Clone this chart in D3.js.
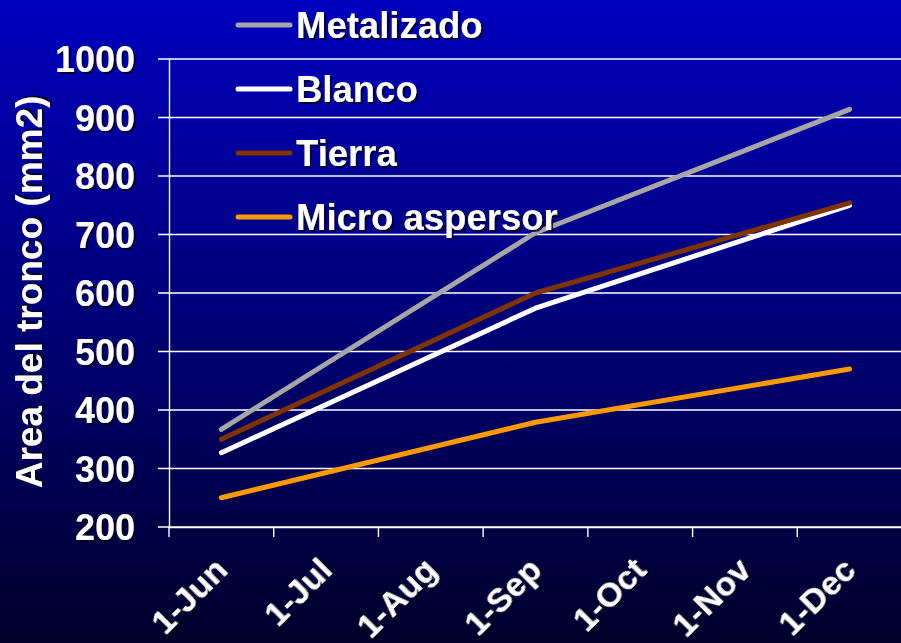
<!DOCTYPE html>
<html><head><meta charset="utf-8">
<script src="https://cdn.jsdelivr.net/npm/d3@7/dist/d3.min.js"></script>
<style>html,body{margin:0;padding:0;background:#000030;}svg{display:block;}</style>
</head><body>
<script>
const months = ["1-Jun","1-Jul","1-Aug","1-Sep","1-Oct","1-Nov","1-Dec"];
const measured = ["1-Jun","1-Sep","1-Dec"];
const seriesNames = ["Metalizado","Blanco","Tierra","Micro aspersor"];
const metalizado = [367, 703, 914];
const blanco = [327, 574, 750];
const tierra = [350, 600, 754];
const micro = [250, 379, 470];
const yTicks = [200,300,400,500,600,700,800,900,1000];
const colors = ["#A6A6A6","#FFFFFF","#7F3300","#FF9900"];
const seriesValues = [metalizado, blanco, tierra, micro];

const W = 901, H = 643;
const FONT = "'Liberation Sans', Arial, sans-serif";
const svg = d3.select("body").append("svg").attr("width", W).attr("height", H);
const defs = svg.append("defs");
const grad = defs.append("linearGradient").attr("id","bg").attr("x1",0).attr("y1",0).attr("x2",0).attr("y2",1);
grad.append("stop").attr("offset","0%").attr("stop-color","#0000BE");
grad.append("stop").attr("offset","55%").attr("stop-color","#000070");
grad.append("stop").attr("offset","100%").attr("stop-color","#00002A");
const f = defs.append("filter").attr("id","sh").attr("x","-10%").attr("y","-10%").attr("width","130%").attr("height","130%");
f.append("feDropShadow").attr("dx",2).attr("dy",2).attr("stdDeviation",0.6).attr("flood-color","#000020").attr("flood-opacity",0.85);

svg.append("rect").attr("width",W).attr("height",H).attr("fill","url(#bg)");

const pLeft = 169, pRight = 902, pTop = 59, pBottom = 527;
const x = d3.scaleBand().domain(months).range([pLeft, pRight]).padding(0);
const y = d3.scaleLinear().domain([200,1000]).range([pBottom, pTop]);

// gridlines
svg.append("g").selectAll("line").data(yTicks).join("line")
  .attr("x1", pLeft-11).attr("x2", W).attr("y1", d=>y(d)).attr("y2", d=>y(d))
  .attr("stroke","#fff").attr("stroke-width",1.4);

// y axis
const yAxis = svg.append("g").attr("transform",`translate(${pLeft},0)`)
  .call(d3.axisLeft(y).tickValues(yTicks).tickSize(0).tickPadding(34).tickFormat(d3.format("d")));
yAxis.select(".domain").attr("stroke","#fff").attr("stroke-width",1.4);
yAxis.selectAll("text").attr("fill","#fff").attr("font-family",FONT).attr("font-weight","bold")
  .attr("font-size",36).attr("dy","0.36em").attr("filter","url(#sh)");

// x axis
const xAxis = svg.append("g").attr("transform",`translate(0,${pBottom})`)
  .call(d3.axisBottom(x).tickSize(10).tickSizeOuter(0));
xAxis.select(".domain").attr("stroke","#fff").attr("stroke-width",1.4);
xAxis.selectAll(".tick line").attr("stroke","#fff").attr("stroke-width",1.4)
  .attr("transform",`translate(${-x.bandwidth()/2},0)`);
xAxis.selectAll(".tick text")
  .attr("fill","#fff").attr("font-family",FONT).attr("font-weight","bold").attr("font-size",34)
  .attr("text-anchor","end").attr("y",0).attr("dy",0)
  .attr("transform",`translate(8,45) rotate(-45)`).attr("filter","url(#sh)");

// y title
svg.append("text").attr("transform","translate(42,292) rotate(-90)")
  .attr("text-anchor","middle").attr("fill","#fff").attr("font-family",FONT)
  .attr("font-weight","bold").attr("font-size",37).attr("filter","url(#sh)")
  .text("Area del tronco (mm2)");

// lines
const line = d3.line().x(d=>x(d.m)+x.bandwidth()/2).y(d=>y(d.v));
seriesValues.forEach((vals,i)=>{
  const pts = measured.map((m,j)=>({m, v: vals[j]}));
  svg.append("path").datum(pts).attr("d", line).attr("fill","none")
    .attr("stroke", colors[i]).attr("stroke-width",5).attr("stroke-linecap","round").attr("stroke-linejoin","round");
});

// legend
const legY = [25, 89, 153, 217];
const leg = svg.append("g");
seriesNames.forEach((n,i)=>{
  leg.append("line").attr("x1",238).attr("x2",290).attr("y1",legY[i]).attr("y2",legY[i])
    .attr("stroke",colors[i]).attr("stroke-width",5).attr("stroke-linecap","round");
  leg.append("text").attr("x",296).attr("y",legY[i]+13).attr("fill","#fff")
    .attr("font-family",FONT).attr("font-weight","bold").attr("font-size",36.5).attr("filter","url(#sh)").text(n);
});
</script>
</body></html>
